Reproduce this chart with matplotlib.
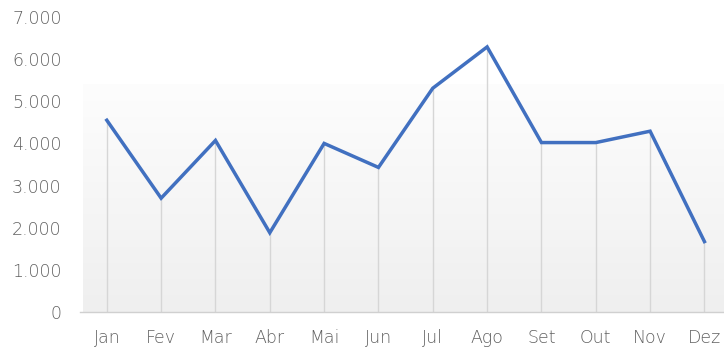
import numpy as np
import matplotlib.pyplot as plt
from matplotlib.colors import LinearSegmentedColormap

months = ['Jan', 'Fev', 'Mar', 'Abr', 'Mai', 'Jun', 'Jul', 'Ago', 'Set', 'Out', 'Nov', 'Dez']
values = [4550, 2700, 4070, 1880, 4000, 3430, 5310, 6290, 4020, 4020, 4290, 1670]
yticks = [0, 1000, 2000, 3000, 4000, 5000, 6000, 7000]
ylabels = ['0', '1.000', '2.000', '3.000', '4.000', '5.000', '6.000', '7.000']

plt.rcParams['font.family'] = ['DejaVu Sans']

fig = plt.figure(figsize=(7.24, 3.47), dpi=100)
ax = fig.add_axes([0.110, 0.101, 0.890, 0.850])

x = np.arange(len(months))

# soft gradient panel behind the line
cmap = LinearSegmentedColormap.from_list('bg', ['#efefef', '#fdfdfd'])
grad = np.linspace(0, 1, 256).reshape(-1, 1)
ax.imshow(grad, cmap=cmap, origin='lower', aspect='auto',
          extent=[0.005, 1, 0, 0.77], transform=ax.transAxes, zorder=0)

# drop lines from each point to the baseline
ax.vlines(x, 0, values, color='#d6d6d6', linewidth=1.0, zorder=1)
ax.plot(x, values, color='#4170c0', linewidth=2.5, solid_joinstyle='miter', zorder=3)

ax.set_xlim(-0.5, 11.36)
ax.set_ylim(0, 7000)
ax.set_xticks(x)
ax.set_xticklabels(months)
ax.set_yticks(yticks)
ax.set_yticklabels(ylabels)

for s in ['top', 'right', 'left']:
    ax.spines[s].set_visible(False)
ax.spines['bottom'].set_color('#d0d0d0')
ax.spines['bottom'].set_linewidth(1.0)
ax.tick_params(axis='both', length=0, labelsize=12.5, labelcolor='#606060')
ax.tick_params(axis='x', pad=12)
ax.tick_params(axis='y', pad=13)
for lbl in ax.get_xticklabels() + ax.get_yticklabels():
    lbl.set_fontweight('light')

plt.savefig('out.png', dpi=100)
